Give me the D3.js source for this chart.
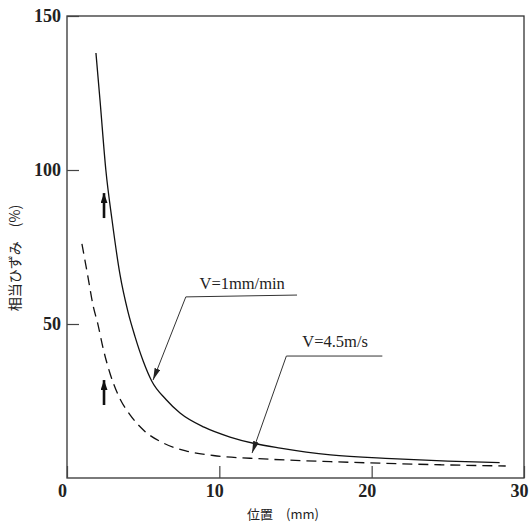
<!DOCTYPE html>
<html>
<head>
<meta charset="utf-8">
<script src="https://cdn.jsdelivr.net/npm/d3@7"></script>
<style>
  body { margin: 0; background: #fff; }
  svg { display: block; }
</style>
</head>
<body>
<svg id="chart" width="532" height="527"></svg>
<script>
// values
var xTicks = [0, 10, 20, 30];
var yTicks = [50, 100, 150];

// V=1mm/min (solid)
var slowX = [1.9, 2.17, 2.55, 2.95, 3.48, 4.0, 4.46, 5.0, 5.56, 6.5, 7.42, 9.0, 10.7, 12.3, 14.0, 17.3, 21.3, 25.0, 28.4];
var slowY = [138, 122.5, 100, 84, 66, 54, 46, 38, 31.5, 25.5, 21.1, 16.5, 13.3, 11.2, 9.7, 7.5, 6.3, 5.5, 5.0];

// V=4.5m/s (dashed)
var fastX = [0.98, 1.35, 1.73, 2.0, 2.4, 2.82, 3.4, 4.14, 5.1, 6.3, 7.8, 9.6, 12.9, 17.3, 20.6, 24.5, 28.8];
var fastY = [76, 66, 55.6, 50.5, 41.5, 34, 26.5, 20.5, 15.2, 11.4, 8.8, 7.3, 6.2, 5.3, 4.8, 4.3, 3.9];

var seriesLabels = ["V=1mm/min", "V=4.5m/s"];

var svg = d3.select("#chart");

var x = d3.scaleLinear().domain([0, 30]).range([67, 524]);
var y = d3.scaleLinear().domain([0, 150]).range([478, 16]);

var defs = svg.append("defs");
defs.append("marker")
    .attr("id", "leadHead")
    .attr("viewBox", "0 0 12 6")
    .attr("refX", 12).attr("refY", 3)
    .attr("markerWidth", 12).attr("markerHeight", 6)
    .attr("markerUnits", "userSpaceOnUse")
    .attr("orient", "auto")
    .append("path").attr("d", "M0,0L12,3L0,6Z").attr("fill", "#222");
defs.append("marker")
    .attr("id", "upHead")
    .attr("viewBox", "0 0 10 7")
    .attr("refX", 10).attr("refY", 3.5)
    .attr("markerWidth", 10).attr("markerHeight", 7)
    .attr("markerUnits", "userSpaceOnUse")
    .attr("orient", "auto")
    .append("path").attr("d", "M0,0L10,3.5L0,7Z").attr("fill", "#111");

// frame
svg.append("rect")
    .attr("x", x(0)).attr("y", y(150))
    .attr("width", x(30) - x(0)).attr("height", y(0) - y(150))
    .attr("fill", "none").attr("stroke", "#333").attr("stroke-width", 1.3);

var serif = "'Liberation Serif', 'DejaVu Serif', serif";

var yAxis = svg.append("g")
    .attr("transform", "translate(" + x(0) + ",0)")
    .call(d3.axisLeft(y).tickValues(yTicks).tickSize(-12).tickPadding(6));
yAxis.select(".domain").remove();
yAxis.selectAll("line").attr("stroke", "#444").attr("stroke-width", 1.2);
yAxis.selectAll("text")
    .attr("font-family", serif).attr("font-size", 18).attr("font-weight", "bold").attr("fill", "#222");

var xAxis = svg.append("g")
    .attr("transform", "translate(0," + y(0) + ")")
    .call(d3.axisBottom(x).tickValues(xTicks).tickSize(-12).tickPadding(6));
xAxis.select(".domain").remove();
xAxis.selectAll("line").attr("stroke", "#444").attr("stroke-width", 1.2);
xAxis.selectAll("text")
    .attr("dx", -5)
    .attr("font-family", serif).attr("font-size", 18).attr("font-weight", "bold").attr("fill", "#222");

// axis titles
svg.append("text")
    .attr("x", 283).attr("y", 519)
    .attr("text-anchor", "middle")
    .attr("font-family", "'Noto Sans CJK JP', sans-serif").attr("font-size", 13).attr("fill", "#222")
    .text("位置　(mm)");
svg.append("text")
    .attr("transform", "translate(20,258) rotate(-90)")
    .attr("text-anchor", "middle")
    .attr("font-family", "'Noto Sans CJK JP', sans-serif").attr("font-size", 14).attr("fill", "#222")
    .text("相当ひずみ　(%)");

// curves
var line = d3.line()
    .x(function (d) { return x(d[0]); })
    .y(function (d) { return y(d[1]); })
    .curve(d3.curveMonotoneX);

svg.append("path")
    .datum(d3.zip(slowX, slowY))
    .attr("d", line)
    .attr("fill", "none").attr("stroke", "#111").attr("stroke-width", 1.3);

svg.append("path")
    .datum(d3.zip(fastX, fastY))
    .attr("d", line)
    .attr("fill", "none").attr("stroke", "#111").attr("stroke-width", 1.3)
    .attr("stroke-dasharray", "10,6");

// leaders with labels
var leaders = [
    { pts: [[15.1, 59.4], [7.8, 58.8], [5.65, 31.8]], at: [11.5, 61.4] },
    { pts: [[20.7, 39.6], [14.4, 39.6], [12.15, 8.1]], at: [17.6, 42.6] }
];
var plain = d3.line()
    .x(function (d) { return x(d[0]); })
    .y(function (d) { return y(d[1]); });

leaders.forEach(function (l, i) {
    svg.append("path")
        .attr("d", plain(l.pts))
        .attr("fill", "none").attr("stroke", "#333").attr("stroke-width", 1)
        .attr("marker-end", "url(#leadHead)");
    svg.append("text")
        .attr("x", x(l.at[0])).attr("y", y(l.at[1]))
        .attr("text-anchor", "middle")
        .attr("font-family", serif).attr("font-size", 16.5).attr("fill", "#222")
        .text(seriesLabels[i]);
});

// upward arrows
var upArrows = [[2.43, 84.4, 92.5], [2.43, 23.7, 31.8]];
upArrows.forEach(function (a) {
    svg.append("line")
        .attr("x1", x(a[0])).attr("x2", x(a[0]))
        .attr("y1", y(a[1])).attr("y2", y(a[2]))
        .attr("stroke", "#111").attr("stroke-width", 2.6)
        .attr("marker-end", "url(#upHead)");
});
</script>
</body>
</html>
